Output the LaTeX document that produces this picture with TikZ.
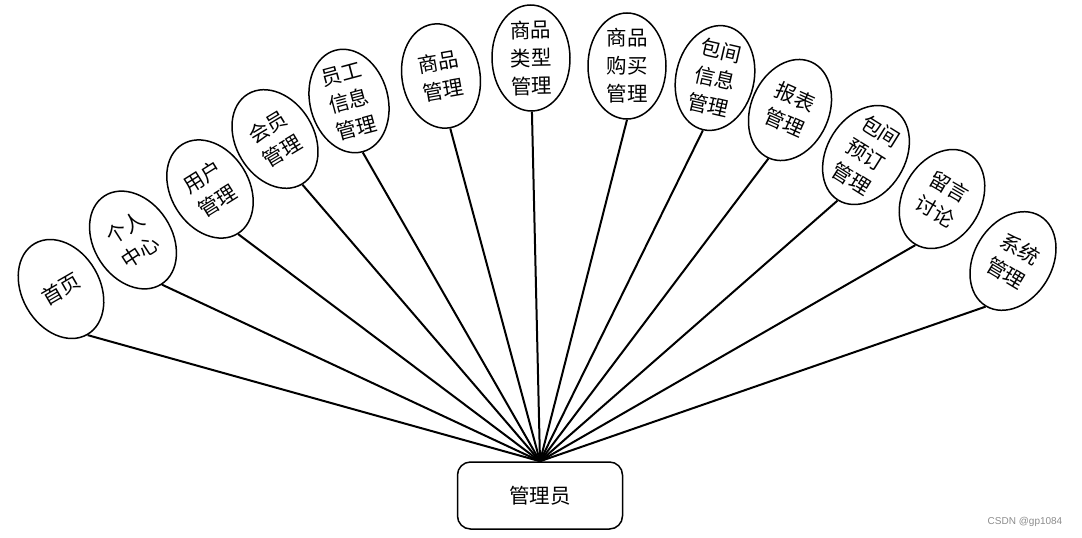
\documentclass[tikz,border=0pt]{standalone}
\usepackage{fontspec}
\newfontfamily\cjk{Noto Sans CJK SC}
\newfontfamily\wm{Liberation Sans}
\usetikzlibrary{shapes.geometric}
\tikzset{
  bub/.style={ellipse, draw, line width=1.5pt, minimum width=78pt, minimum height=105pt, inner sep=0pt, align=center, font=\cjk\fontsize{20.5}{28}\selectfont},
  link/.style={line width=2pt},
  box/.style={rectangle, rounded corners=13pt, draw, line width=1.5pt, minimum width=165pt, minimum height=67pt, inner sep=0pt, font=\cjk\fontsize{20.5}{28}\selectfont}
}
\begin{document}
\begin{tikzpicture}[x=1pt,y=-1pt]
\useasboundingbox (0,0) rectangle (1082,538);
\node[box] (adm) at (540,495.5) {管理员};
\node[bub, rotate=30]  (n1)  at (61,289)  {首页};
\node[bub, rotate=33]  (n2)  at (133,240) {个人\\中心};
\node[bub, rotate=32]  (n3)  at (210,189) {用户\\管理};
\node[bub, rotate=31]  (n4)  at (275,139) {会员\\管理};
\node[bub, rotate=15]  (n5)  at (349,101) {员工\\信息\\管理};
\node[bub, rotate=10]  (n6)  at (441,76)  {商品\\管理};
\node[bub, rotate=1]   (n7)  at (531,58)  {商品\\类型\\管理};
\node[bub, rotate=0]   (n8)  at (627,66)  {商品\\购买\\管理};
\node[bub, rotate=-13] (n9)  at (715,78)  {包间\\信息\\管理};
\node[bub, rotate=-24] (n10) at (790,110) {报表\\管理};
\node[bub, rotate=-32] (n11) at (866,155) {包间\\预订\\管理};
\node[bub, rotate=-30] (n12) at (942,199) {留言\\讨论};
\node[bub, rotate=-31] (n13) at (1013,261) {系统\\管理};
\foreach \i in {1,...,13} {\draw[link] (adm.north) -- (n\i.south);}
\node[font=\wm\fontsize{10}{12}\selectfont, text=black!45] (wm) at (1025,522) {CSDN @gp1084};
\end{tikzpicture}
\end{document}
